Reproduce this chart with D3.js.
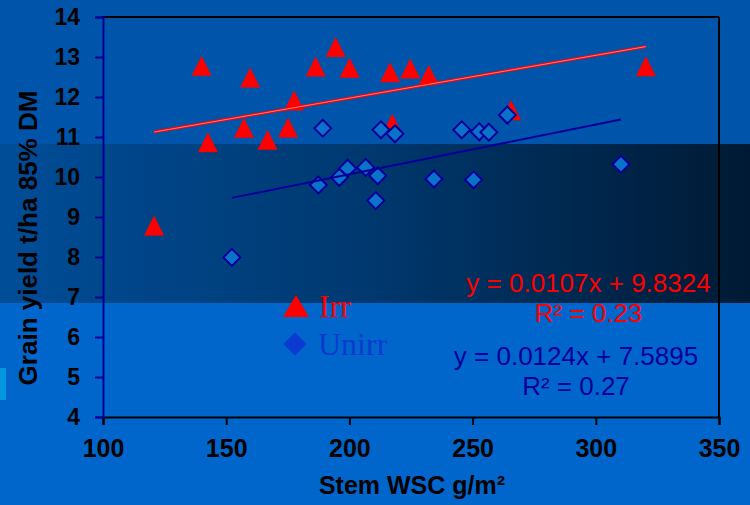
<!DOCTYPE html>
<html><head><meta charset="utf-8">
<script src="https://cdn.jsdelivr.net/npm/d3@7/dist/d3.min.js"></script>
<style>html,body{margin:0;padding:0;background:#0066cc;}svg{display:block;}</style>
</head><body>
<svg id="chart" width="750" height="505"></svg>
<script>
// ---- data ----
const irrX = [120.7, 140.0, 142.6, 157.2, 159.7, 166.8, 175.1, 177.6, 186.3, 194.4, 200.1, 216.5, 217.4, 224.7, 232.2, 265.6, 320.3];
const irrY = [8.79, 12.78, 10.87, 11.23, 12.49, 10.93, 11.24, 11.91, 12.76, 13.25, 12.73, 12.62, 11.33, 12.71, 12.55, 11.67, 12.77];
const unirrX = [152.3, 187.4, 189.2, 195.9, 199.3, 206.6, 210.7, 211.5, 212.8, 218.5, 234.3, 245.6, 250.4, 252.7, 256.6, 264.1, 310.2];
const unirrY = [7.99, 9.80, 11.22, 9.99, 10.22, 10.24, 9.41, 10.03, 11.18, 11.08, 9.95, 11.18, 9.93, 11.13, 11.12, 11.55, 10.32];
const irrFit = [0.0107, 9.8324, "0.23"];
const unirrFit = [0.0124, 7.5895, "0.27"];
const xTicks = [100, 150, 200, 250, 300, 350];
const yTicks = [4, 5, 6, 7, 8, 9, 10, 11, 12, 13, 14];
const seriesNames = ["Irr", "Unirr"];
const xTitle = "Stem WSC g/m²";
const yTitle = "Grain yield t/ha 85% DM";

// ---- drawing ----
const svg = d3.select("#chart");
const W = 750, H = 505;
const x = d3.scaleLinear().domain([100, 350]).range([103, 719]);
const y = d3.scaleLinear().domain([4, 14]).range([417, 17]);

const defs = svg.append("defs");
const g = defs.append("linearGradient").attr("id", "band").attr("x1", "0").attr("x2", "1").attr("y1", "0").attr("y2", "0");
g.append("stop").attr("offset", "0").attr("stop-color", "#004d98");
g.append("stop").attr("offset", "0.5").attr("stop-color", "#00386e");
g.append("stop").attr("offset", "1").attr("stop-color", "#001a34");

// backgrounds
svg.append("rect").attr("x", 0).attr("y", 0).attr("width", W).attr("height", 144).attr("fill", "#0055aa");
svg.append("rect").attr("x", 0).attr("y", 144).attr("width", W).attr("height", 159).attr("fill", "url(#band)");
svg.append("rect").attr("x", 0).attr("y", 303).attr("width", W).attr("height", H - 303).attr("fill", "#0066cc");
svg.append("rect").attr("x", 0).attr("y", 368).attr("width", 6).attr("height", 32).attr("fill", "#0096e0");

// frame
svg.append("line").attr("x1", x(100)).attr("x2", x(350)).attr("y1", y(14)).attr("y2", y(14)).attr("stroke", "#000").attr("stroke-width", 2);
svg.append("line").attr("x1", x(350)).attr("x2", x(350)).attr("y1", y(14)).attr("y2", y(4)).attr("stroke", "#000").attr("stroke-width", 2);

// x axis
const xAxis = svg.append("g").attr("transform", `translate(0,${y(4)})`)
  .call(d3.axisBottom(x).tickValues(xTicks).tickSize(8).tickPadding(14).tickFormat(d3.format("d")));
xAxis.select(".domain").attr("stroke", "#000").attr("stroke-width", 2);
xAxis.selectAll(".tick line").attr("stroke", "#000").attr("stroke-width", 2);
xAxis.selectAll(".tick text").attr("fill", "#000").attr("font-family", "Liberation Sans, Arial, sans-serif")
  .attr("font-weight", "bold").attr("font-size", 25).attr("dy", "0.71em");

// y axis
const yAxis = svg.append("g").attr("transform", `translate(${x(100)},0)`)
  .call(d3.axisLeft(y).tickValues(yTicks).tickSize(8).tickPadding(15).tickFormat(d3.format("d")));
yAxis.select(".domain").attr("stroke", "#000099").attr("stroke-width", 2);
yAxis.selectAll(".tick line").attr("stroke", "#000099").attr("stroke-width", 2);
yAxis.selectAll(".tick text").attr("fill", "#000").attr("font-family", "Liberation Sans, Arial, sans-serif")
  .attr("font-weight", "bold").attr("font-size", 23);

// titles
svg.append("text").attr("x", 412).attr("y", 494).attr("text-anchor", "middle")
  .attr("font-family", "Liberation Sans, Arial, sans-serif").attr("font-weight", "bold").attr("font-size", 25)
  .attr("fill", "#000").text(xTitle);
svg.append("text").attr("transform", "translate(37,238) rotate(-90)").attr("text-anchor", "middle")
  .attr("font-family", "Liberation Sans, Arial, sans-serif").attr("font-weight", "bold").attr("font-size", 26)
  .attr("fill", "#000").text(yTitle);

// marker paths
function triPath(cx, cy, w, h) {
  return `M${cx},${cy - h / 2}L${cx + w / 2},${cy + h / 2}L${cx - w / 2},${cy + h / 2}Z`;
}
function diaPath(cx, cy, r) {
  return `M${cx},${cy - r}L${cx + r},${cy}L${cx},${cy + r}L${cx - r},${cy}Z`;
}

const irr = irrX.map((v, i) => ({ x: v, y: irrY[i] }));
const unirr = unirrX.map((v, i) => ({ x: v, y: unirrY[i] }));

svg.append("g").selectAll("path").data(irr).join("path")
  .attr("d", d => triPath(x(d.x), y(d.y), 20, 20)).attr("fill", "#ff0000");
svg.append("g").selectAll("path").data(unirr).join("path")
  .attr("d", d => diaPath(x(d.x), y(d.y), 8.5)).attr("fill", "#0a72c8").attr("stroke", "#000099").attr("stroke-width", 2);

// trendlines
function trend(data, fit) {
  const ext = d3.extent(data, d => d.x);
  return ext.map(v => [x(v), y(fit[0] * v + fit[1])]);
}
const line = d3.line();
const tIrr = trend(irr, irrFit);
svg.append("path").attr("d", line(tIrr)).attr("stroke", "#ff0000").attr("stroke-width", 3).attr("fill", "none");
svg.append("path").attr("d", line(tIrr)).attr("stroke", "#ff9a9a").attr("stroke-width", 0.8).attr("fill", "none");
const tUn = trend(unirr, unirrFit);
svg.append("path").attr("d", line(tUn)).attr("stroke", "#000099").attr("stroke-width", 2).attr("fill", "none");

// equations
const fmt = v => v.toString();
function eq(fit, cx, y1, color) {
  svg.append("text").attr("x", cx).attr("y", y1).attr("text-anchor", "middle")
    .attr("font-family", "Liberation Sans, Arial, sans-serif").attr("font-size", 26).attr("fill", color)
    .text(`y = ${fmt(fit[0])}x + ${fmt(fit[1])}`);
  svg.append("text").attr("x", cx).attr("y", y1 + 30).attr("text-anchor", "middle")
    .attr("font-family", "Liberation Sans, Arial, sans-serif").attr("font-size", 26).attr("fill", color)
    .text(`R² = ${fit[2]}`);
}
eq(irrFit, 588.5, 292, "#ff0000");
eq(unirrFit, 576, 365, "#000099");

// legend
svg.append("path").attr("d", triPath(296, 306, 26, 22)).attr("fill", "#ff0000");
svg.append("text").attr("x", 319).attr("y", 317).attr("font-family", "Liberation Serif, Times New Roman, serif")
  .attr("font-size", 32).attr("fill", "#ff0000").text(seriesNames[0]);
svg.append("path").attr("d", diaPath(295, 344, 11.5)).attr("fill", "#0a3ad0");
svg.append("text").attr("x", 318).attr("y", 355).attr("font-family", "Liberation Serif, Times New Roman, serif")
  .attr("font-size", 32).attr("fill", "#0a3ad0").text(seriesNames[1]);
</script>
</body></html>
